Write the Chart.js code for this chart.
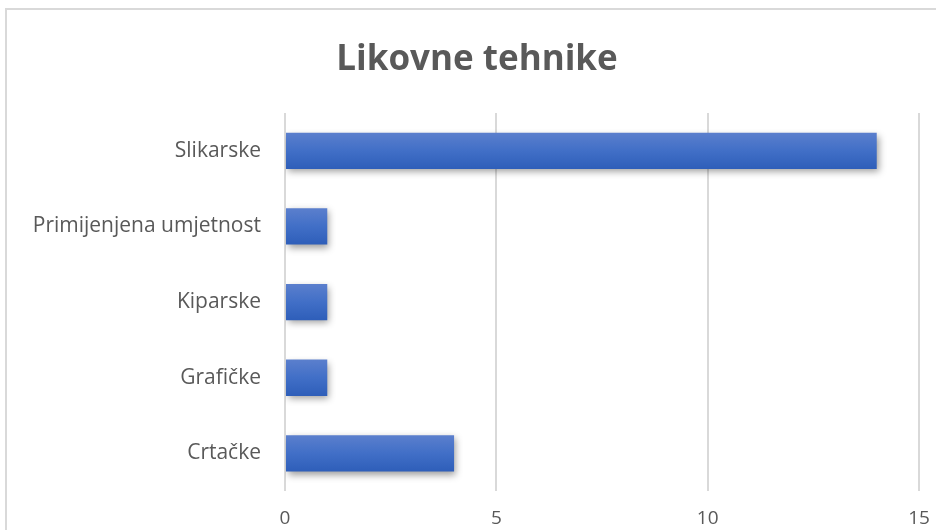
<!DOCTYPE html>
<html>
<head>
<meta charset="utf-8">
<script src="https://cdn.jsdelivr.net/npm/chart.js@4/dist/chart.umd.min.js"></script>
<style>
  html, body { margin: 0; padding: 0; background: #fff; overflow: hidden; width: 936px; height: 530px; }
  #wrap { position: absolute; left: 5px; top: 8px; width: 944px; height: 560px; border: 2px solid #d9d9d9; box-sizing: border-box; background: #fff; }
  canvas { display: block; }
</style>
</head>
<body>
<div id="wrap"><canvas id="c"></canvas></div>
<script>
const chartTitle = "Likovne tehnike";
const categories = ["Slikarske", "Primijenjena umjetnost", "Kiparske", "Grafičke", "Crtačke"];
const values = [14, 1, 1, 1, 4];
const xTicks = [0, 5, 10, 15];

const barStyle = {
  id: 'barStyle',
  beforeDatasetsDraw(chart) {
    const ctx = chart.ctx;
    chart.getDatasetMeta(0).data.forEach(el => {
      const top = el.y - el.height / 2, bot = el.y + el.height / 2;
      const g = ctx.createLinearGradient(0, top, 0, bot);
      g.addColorStop(0, '#5b7fcd');
      g.addColorStop(0.5, '#416fc7');
      g.addColorStop(1, '#2e5eb9');
      const o = Object.create(el.options);
      Object.defineProperty(o, 'backgroundColor', { value: g });
      el.options = o;
    });
    ctx.save();
    ctx.shadowColor = 'rgba(0,0,0,0.38)';
    ctx.shadowBlur = 7;
    ctx.shadowOffsetX = 2;
    ctx.shadowOffsetY = 3;
  },
  afterDatasetsDraw(chart) { chart.ctx.restore(); }
};

new Chart(document.getElementById('c'), {
  type: 'bar',
  data: {
    labels: categories,
    datasets: [{ data: values, backgroundColor: '#4472c4', borderWidth: 0, categoryPercentage: 1, barPercentage: 0.48 }]
  },
  options: {
    indexAxis: 'y',
    responsive: true,
    maintainAspectRatio: false,
    animation: false,
    layout: { padding: { left: 0, right: 0, top: 29, bottom: 20 } },
    plugins: {
      legend: { display: false },
      tooltip: { enabled: false },
      title: {
        display: true, text: chartTitle, color: '#595959',
        font: { family: 'Open Sans', size: 35, weight: 'bold' },
        padding: { top: 0, bottom: 32 }
      }
    },
    scales: {
      x: {
        min: 0, max: 15,
        afterBuildTicks(s) { s.ticks = xTicks.map(v => ({ value: v })); },
        grid: { color: '#d9d9d9', lineWidth: 2, drawTicks: false },
        border: { display: false },
        ticks: { color: '#595959', font: { family: 'Open Sans', size: 19 }, padding: 16 }
      },
      y: {
        afterFit(s) { s.width = 278; },
        grid: { display: false, drawTicks: false },
        border: { display: false },
        ticks: { color: '#595959', font: { family: 'Open Sans', size: 21 }, padding: 24 }
      },
      yRight: {
        position: 'right',
        afterFit(s) { s.width = 28; },
        grid: { display: false, drawTicks: false },
        border: { display: false },
        ticks: { display: false }
      }
    }
  },
  plugins: [barStyle]
});
</script>
</body>
</html>
